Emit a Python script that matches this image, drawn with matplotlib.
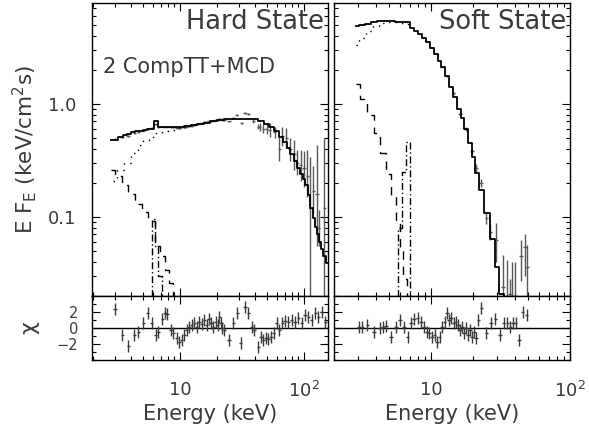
import numpy as np
import matplotlib
matplotlib.use('Agg')
import matplotlib.pyplot as plt
from matplotlib.ticker import FixedLocator, FixedFormatter, MultipleLocator, NullFormatter, LogLocator

plt.rcParams['font.family'] = ['DejaVu Sans']
plt.rcParams['mathtext.default'] = 'regular'

# ---- hard state: model components ----
hard_model_e = [2.8, 3.0, 3.3, 3.6, 3.9, 4.2, 4.5, 4.8, 5.2, 5.6, 6.0, 6.4, 6.8, 7.3, 8.0, 9.0,
                10.0, 11.5, 13.0, 14.5, 16.5, 18.5, 21.0, 24.0, 28.0, 32.0, 36.0, 40.0, 45.0,
                50.0, 55.0, 60.0, 65.0, 70.0, 75.0, 80.0, 85.0, 90.0, 95.0, 100.0, 105.0,
                110.0, 115.0, 120.0, 125.0, 130.0, 135.0, 140.0, 146.0, 152.0]
hard_model_f = [0.48, 0.48, 0.51, 0.53, 0.54, 0.56, 0.57, 0.58, 0.59, 0.60, 0.60, 0.70, 0.62, 0.62,
                0.62, 0.63, 0.63, 0.64, 0.65, 0.66, 0.68, 0.70, 0.72, 0.73, 0.74, 0.74, 0.735, 0.73,
                0.71, 0.67, 0.62, 0.57, 0.51, 0.46, 0.41, 0.36, 0.31, 0.27, 0.24, 0.215, 0.19,
                0.155, 0.12, 0.097, 0.082, 0.07, 0.06, 0.052, 0.045, 0.039]
hard_comptt_e = [2.9, 3.3, 3.7, 4.3, 4.8, 5.3, 5.9, 6.7, 7.5, 8.5, 10.0, 12.0]
hard_comptt_f = [0.21, 0.26, 0.30, 0.37, 0.43, 0.48, 0.51, 0.55, 0.57, 0.59, 0.61, 0.63]
hard_mcd_e = [2.8, 3.2, 3.6, 4.0, 4.6, 5.2, 5.9, 6.6, 7.2, 7.8, 8.4, 9.0]
hard_mcd_f = [0.26, 0.23, 0.19, 0.16, 0.13, 0.11, 0.092, 0.055, 0.045, 0.034, 0.026, 0.015]
hard_line_e = [5.7, 6.1, 6.5, 6.9, 7.3, 7.7]
hard_line_f = [0.005, 0.095, 0.055, 0.03, 0.005, 0.001]

# ---- hard state: unfolded data ----
hard_e = [3.0, 3.4, 3.8, 4.3, 4.6, 5.1, 5.5, 5.9, 6.4, 6.7, 7.2, 7.6, 7.9, 8.5, 8.8, 9.4, 9.9,
          10.3, 10.8, 11.3, 11.8, 12.4, 13.0, 13.6, 14.2, 15.0, 15.7, 16.4, 17.1, 17.8, 18.6,
          19.4, 20.1, 20.8, 21.4, 21.9, 22.8, 24.8, 26.9, 28.6, 31.4, 33.4, 35.6, 39.0, 42.8,
          44.0, 47.0, 50.0, 53.0, 58.0, 63.0, 66.7, 72.0, 77.0, 83.0, 88.0, 94.0, 100.0, 106.0,
          112.0, 119.0, 127.0, 131.0, 146.0]
hard_f = [0.49, 0.51, 0.52, 0.55, 0.56, 0.58, 0.60, 0.61, 0.66, 0.62, 0.63, 0.63, 0.63, 0.62,
          0.62, 0.61, 0.61, 0.62, 0.62, 0.63, 0.64, 0.64, 0.65, 0.66, 0.67, 0.68, 0.69, 0.69,
          0.70, 0.70, 0.71, 0.72, 0.72, 0.74, 0.73, 0.72, 0.72, 0.70, 0.75, 0.80, 0.675, 0.83,
          0.81, 0.71, 0.63, 0.62, 0.60, 0.60, 0.59, 0.56, 0.40, 0.52, 0.50, 0.40, 0.36, 0.30,
          0.29, 0.27, 0.23, 0.12, 0.17, 0.16, 0.08, 0.12]
hard_lo = [0.48, 0.50, 0.51, 0.54, 0.55, 0.57, 0.59, 0.60, 0.65, 0.61, 0.62, 0.62, 0.62, 0.61,
           0.61, 0.60, 0.60, 0.61, 0.61, 0.62, 0.63, 0.63, 0.64, 0.65, 0.66, 0.67, 0.68, 0.68,
           0.69, 0.69, 0.70, 0.71, 0.71, 0.73, 0.72, 0.71, 0.71, 0.69, 0.73, 0.78, 0.66, 0.81,
           0.79, 0.68, 0.60, 0.57, 0.55, 0.54, 0.51, 0.50, 0.31, 0.42, 0.41, 0.31, 0.26, 0.235,
           0.21, 0.185, 0.15, 0.001, 0.108, 0.055, 0.055, 0.001]
hard_hi = [0.50, 0.52, 0.53, 0.56, 0.57, 0.59, 0.61, 0.62, 0.67, 0.63, 0.64, 0.64, 0.64, 0.63,
           0.63, 0.62, 0.62, 0.63, 0.63, 0.64, 0.65, 0.65, 0.66, 0.67, 0.68, 0.69, 0.70, 0.70,
           0.71, 0.71, 0.72, 0.73, 0.73, 0.75, 0.74, 0.73, 0.73, 0.71, 0.77, 0.82, 0.69, 0.85,
           0.83, 0.74, 0.66, 0.68, 0.66, 0.67, 0.68, 0.63, 0.51, 0.63, 0.61, 0.50, 0.48, 0.39,
           0.39, 0.38, 0.39, 0.34, 0.28, 0.43, 0.115, 0.50]

# ---- hard state: residuals ----
hard_res_e = [2.99, 3.43, 3.83, 4.28, 4.61, 5.06, 5.49, 5.91, 6.37, 6.69, 7.21, 7.57, 7.86, 8.46,
              8.84, 9.4, 9.87, 10.3, 10.8, 11.3, 11.8, 12.4, 13.0, 13.6, 14.2, 15.0, 15.7, 16.4,
              17.1, 17.8, 18.6, 19.4, 20.1, 20.8, 21.4, 21.9, 22.8, 24.8, 26.9, 29.0, 30.8, 33.4,
              35.6, 37.8, 39.8, 42.8, 45.0, 47.0, 49.4, 51.5, 54.2, 56.9, 60.2, 63.2, 66.8, 70.3,
              74.7, 79.6, 84.6, 90.0, 95.8, 102.0, 108.0, 115.0, 123.0, 130.0, 139.0, 148.0]
hard_res = [2.33, -0.88, -2.2, -0.88, -0.46, 0.58, 1.83, 0.58, -0.88, -0.46, 1.08, 1.83, 1.75,
            -0.25, -0.67, -1.29, -1.7, -1.5, -0.88, -0.25, 0.17, 0.38, 0.58, 0.17, 0.79, 0.5,
            1.0, 0.38, 1.08, 0.58, 0.17, 0.8, 0.38, 1.42, 0.58, -0.04, -0.25, -1.5, 0.67, 1.92,
            -1.92, 2.67, 1.83, 0.17, -0.25, -2.33, -1.08, -1.5, -1.29, -1.42, -1.08, -0.67, 0.58,
            -0.25, 0.58, 0.92, 0.79, 1.0, 0.79, 1.2, 0.58, 1.62, 1.33, 1.0, 1.83, 1.42, 2.04, 0.79]

# ---- soft state: model components ----
soft_model_e = [2.9, 3.2, 3.5, 3.9, 4.3, 4.7, 5.2, 5.7, 6.3, 6.8, 7.3, 7.8, 8.3, 8.9, 9.5, 10.1,
                10.8, 11.5, 12.2, 13.0, 13.9, 14.8, 15.8, 16.8, 17.9, 19.0, 20.2, 21.4, 23.1,
                25.2, 27.5, 29.7, 32.2, 35.0, 40.0]
soft_model_f = [4.9, 5.0, 5.1, 5.25, 5.4, 5.45, 5.4, 5.35, 5.3, 5.25, 4.7, 4.4, 4.15, 3.8, 3.5,
                3.15, 2.75, 2.4, 2.1, 1.75, 1.42, 1.15, 0.9, 0.75, 0.6, 0.45, 0.34, 0.245, 0.174,
                0.108, 0.064, 0.036, 0.021, 0.012, 0.006]
soft_comptt_e = [2.9, 3.2, 3.6, 4.0, 4.4, 4.8, 5.3, 5.8, 6.3, 6.9]
soft_comptt_f = [3.3, 3.8, 4.4, 4.9, 5.2, 5.35, 5.35, 5.3, 5.2, 5.05]
soft_mcd_e = [2.89, 3.24, 3.70, 4.10, 4.52, 5.00, 5.34, 5.80, 6.10, 6.52, 6.85, 7.2]
soft_mcd_f = [1.5, 1.1, 0.8, 0.55, 0.37, 0.24, 0.15, 0.09, 0.05, 0.028, 0.015, 0.005]
soft_line_e = [5.6, 5.95, 6.35, 6.8, 7.2, 7.6]
soft_line_f = [0.005, 0.08, 0.25, 0.46, 0.005, 0.001]

# ---- soft state: unfolded data ----
soft_e = [12.0, 13.0, 14.5, 16.2, 17.9, 19.8, 21.1, 22.9, 25.0, 26.7, 29.2, 32.9, 35.2, 36.8,
          38.5, 40.0, 44.6, 47.2, 49.1]
soft_f = [2.14, 1.75, 1.25, 0.82, 0.60, 0.38, 0.27, 0.20, 0.097, 0.074, 0.063, 0.024, 0.020,
          0.021, 0.020, 0.020, 0.045, 0.054, 0.036]
soft_lo = [2.10, 1.72, 1.22, 0.80, 0.58, 0.36, 0.245, 0.185, 0.087, 0.062, 0.040, 0.005, 0.005,
           0.005, 0.005, 0.005, 0.027, 0.030, 0.020]
soft_hi = [2.18, 1.78, 1.28, 0.84, 0.62, 0.40, 0.295, 0.215, 0.110, 0.086, 0.088, 0.046, 0.042,
           0.028, 0.040, 0.040, 0.063, 0.070, 0.057]

# ---- soft state: residuals ----
soft_res_e = [3.03, 3.2, 3.48, 3.89, 4.28, 4.52, 4.73, 5.14, 5.58, 5.97, 6.41, 6.78, 7.17, 7.57,
              8.0, 8.47, 8.85, 9.3, 9.72, 10.2, 10.6, 11.0, 11.5, 12.0, 12.5, 13.0, 13.4, 13.9,
              14.5, 15.0, 15.6, 16.2, 16.7, 17.3, 17.9, 18.5, 19.1, 19.8, 20.5, 21.1, 21.9,
              23.0, 25.0, 27.1, 29.0, 31.2, 33.3, 35.4, 37.2, 38.9, 40.6, 43.0, 45.5, 48.6]
soft_res = [0.08, 0.17, 0.38, -0.46, -0.04, 0.17, 0.25, -1.08, 0.17, 1.0, 0.17, -1.08, 0.58,
            1.08, 1.2, 0.79, 0.17, -0.46, -0.67, -1.08, -0.88, -1.7, -1.08, 0.17, 0.79, 1.83,
            1.0, 1.2, 0.58, 0.79, 0.38, -0.25, 0.17, -0.67, -0.04, -0.88, -0.25, -1.08, -0.46,
            -1.29, 1.0, 2.46, -0.67, 0.58, 1.08, -0.88, 0.58, 0.58, 0.17, 0.58, 0.58, -1.5,
            2.04, 1.62]

RES_ERR = 0.75      # chi residual bars are ~1 sigma
BIN_FRAC = 0.03     # half-width of the energy channels

DATA_COLOR = '#585858'
TEXT_COLOR = '#3a3a3a'


def style_axis(ax, xlim):
    ax.set_xscale('log')
    ax.set_xlim(*xlim)
    ax.tick_params(which='both', direction='in', top=True, right=True, colors='black',
                   labelcolor=TEXT_COLOR, labelsize=13)
    ax.tick_params(which='major', length=6, width=0.8)
    ax.tick_params(which='minor', length=3, width=0.8)
    for sp in ax.spines.values():
        sp.set_linewidth(1.0)


def main_panel(ax, xlim, mod_e, mod_f, cpt_e, cpt_f, mcd_e, mcd_f, ln_e, ln_f,
               d_e, d_f, d_lo, d_hi, show_ylabels):
    style_axis(ax, xlim)
    ax.set_yscale('log')
    ax.set_ylim(0.02, 7.8)
    ax.yaxis.set_major_locator(FixedLocator([0.01, 0.1, 1.0, 10.0]))
    ax.yaxis.set_minor_locator(LogLocator(base=10, subs=np.arange(2, 10)))
    ax.yaxis.set_minor_formatter(NullFormatter())
    if show_ylabels:
        ax.yaxis.set_major_formatter(FixedFormatter(['0.01', '0.1', '1.0', '10']))
    else:
        ax.yaxis.set_major_formatter(NullFormatter())
    ax.tick_params(axis='y', pad=11)
    ax.xaxis.set_major_formatter(NullFormatter())
    ax.xaxis.set_minor_formatter(NullFormatter())

    d_e = np.asarray(d_e)
    d_f = np.asarray(d_f)
    yerr = [d_f - np.asarray(d_lo), np.asarray(d_hi) - d_f]
    ax.errorbar(d_e, d_f, yerr=yerr, xerr=d_e * BIN_FRAC, fmt='none',
                ecolor=DATA_COLOR, elinewidth=1.0, capsize=0, zorder=2)

    ax.step(mcd_e, mcd_f, where='mid', color='black', lw=1.0, ls=(0, (6, 5)), zorder=3)
    ax.step(ln_e, ln_f, where='mid', color='black', lw=1.0, ls=(0, (5, 2, 1, 2)), zorder=3)
    ax.step(cpt_e, cpt_f, where='mid', color='black', lw=1.0, ls=(0, (1, 4)), zorder=3)
    ax.step(mod_e, mod_f, where='mid', color='black', lw=1.3, zorder=4)


def resid_panel(ax, xlim, r_e, r_v, show_ylabels, xticklabels):
    style_axis(ax, xlim)
    ax.set_ylim(-4, 4)
    ax.yaxis.set_major_locator(FixedLocator([-2, 0, 2]))
    ax.yaxis.set_minor_locator(MultipleLocator(1))
    if show_ylabels:
        ax.yaxis.set_major_formatter(FixedFormatter(['\u22122', '0', '2']))
    else:
        ax.yaxis.set_major_formatter(NullFormatter())
    ax.tick_params(axis='y', pad=10, labelsize=10.5)
    ax.xaxis.set_major_locator(FixedLocator([10, 100]))
    ax.xaxis.set_major_formatter(FixedFormatter(xticklabels))
    ax.xaxis.set_minor_formatter(NullFormatter())
    ax.tick_params(axis='x', pad=15)
    ax.axhline(0, color='black', lw=1.0, zorder=1)
    r_e = np.asarray(r_e)
    ax.errorbar(r_e, r_v, yerr=RES_ERR, xerr=r_e * BIN_FRAC, fmt='none',
                ecolor='#3a3a3a', elinewidth=1.0, capsize=0, zorder=2)
    ax.set_xlabel('Energy (keV)', fontsize=15, color=TEXT_COLOR, labelpad=2)


fig = plt.figure(figsize=(5.89, 4.29), dpi=100)
ax_hm = fig.add_axes([0.1562, 0.310, 0.4007, 0.683])
ax_hr = fig.add_axes([0.1562, 0.1608, 0.4007, 0.1492])
ax_sm = fig.add_axes([0.5671, 0.310, 0.4007, 0.683])
ax_sr = fig.add_axes([0.5671, 0.1608, 0.4007, 0.1492])

hard_xlim = (1.95, 156)
soft_xlim = (2.0, 100)
xlabels = ['10', '10$^{2}$']

main_panel(ax_hm, hard_xlim, hard_model_e, hard_model_f, hard_comptt_e, hard_comptt_f,
           hard_mcd_e, hard_mcd_f, hard_line_e, hard_line_f,
           hard_e, hard_f, hard_lo, hard_hi, True)
main_panel(ax_sm, soft_xlim, soft_model_e, soft_model_f, soft_comptt_e, soft_comptt_f,
           soft_mcd_e, soft_mcd_f, soft_line_e, soft_line_f,
           soft_e, soft_f, soft_lo, soft_hi, False)
resid_panel(ax_hr, hard_xlim, hard_res_e, hard_res, True, xlabels)
resid_panel(ax_sr, soft_xlim, soft_res_e, soft_res, False, xlabels)

ax_hm.set_ylabel('E F$_{E}$ (keV/cm$^{2}$s)', fontsize=15.5, color=TEXT_COLOR, labelpad=7)
ax_hr.set_ylabel('\u03c7', fontsize=16, color=TEXT_COLOR, labelpad=12)

ax_hm.text(0.985, 0.978, 'Hard State', transform=ax_hm.transAxes, ha='right', va='top',
           fontsize=18.5, color=TEXT_COLOR)
ax_hm.text(0.045, 0.78, '2 CompTT+MCD', transform=ax_hm.transAxes, ha='left', va='center',
           fontsize=15, color=TEXT_COLOR)
ax_sm.text(0.985, 0.978, 'Soft State', transform=ax_sm.transAxes, ha='right', va='top',
           fontsize=18.5, color=TEXT_COLOR)

fig.savefig('out.png', dpi=100)
